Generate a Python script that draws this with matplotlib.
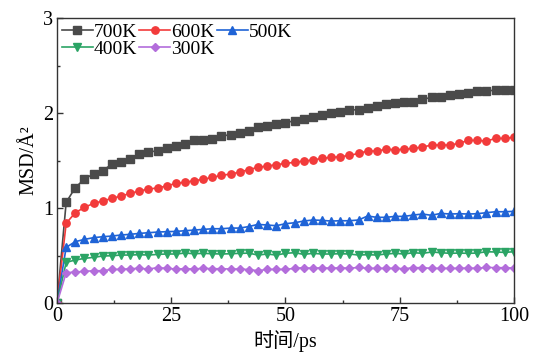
import numpy as np
import matplotlib
matplotlib.use("Agg")
import matplotlib.pyplot as plt
from matplotlib.ticker import MultipleLocator

plt.rcParams['font.family'] = ['Liberation Serif', 'Noto Sans CJK SC']
plt.rcParams['mathtext.fontset'] = 'stix'

# time axis (ps), sampled every 2 ps
time_ps = list(range(0, 101, 2))

msd_700 = [0.0, 1.06, 1.215, 1.305, 1.36, 1.395, 1.46, 1.483, 1.52, 1.568,
           1.589, 1.603, 1.635, 1.649, 1.677, 1.712, 1.712, 1.726, 1.758, 1.772,
           1.793, 1.815, 1.849, 1.860, 1.884, 1.898, 1.919, 1.937, 1.954, 1.982,
           2.003, 2.011, 2.032, 2.035, 2.049, 2.070, 2.091, 2.102, 2.119, 2.119,
           2.144, 2.165, 2.172, 2.189, 2.203, 2.214, 2.228, 2.235, 2.239, 2.242,
           2.242]
msd_600 = [0.0, 0.839, 0.951, 1.007, 1.049, 1.074, 1.102, 1.126, 1.154, 1.179,
           1.200, 1.211, 1.232, 1.260, 1.270, 1.288, 1.302, 1.323, 1.344, 1.358,
           1.378, 1.405, 1.428, 1.442, 1.456, 1.470, 1.481, 1.495, 1.505, 1.523,
           1.533, 1.540, 1.554, 1.575, 1.600, 1.600, 1.618, 1.614, 1.618, 1.628,
           1.642, 1.663, 1.663, 1.663, 1.681, 1.712, 1.712, 1.705, 1.733, 1.733,
           1.744]
msd_500 = [0.0, 0.586, 0.646, 0.670, 0.688, 0.698, 0.705, 0.716, 0.723, 0.733,
           0.740, 0.747, 0.751, 0.754, 0.761, 0.768, 0.775, 0.782, 0.782, 0.789,
           0.789, 0.805, 0.828, 0.821, 0.814, 0.835, 0.845, 0.863, 0.874, 0.870,
           0.863, 0.866, 0.866, 0.874, 0.916, 0.902, 0.902, 0.912, 0.912, 0.926,
           0.937, 0.923, 0.944, 0.937, 0.940, 0.937, 0.940, 0.951, 0.961, 0.961,
           0.965]
msd_400 = [0.0, 0.428, 0.453, 0.470, 0.481, 0.495, 0.498, 0.505, 0.505, 0.509,
           0.505, 0.512, 0.516, 0.516, 0.526, 0.519, 0.523, 0.519, 0.516, 0.519,
           0.523, 0.525, 0.505, 0.516, 0.505, 0.523, 0.530, 0.512, 0.523, 0.516,
           0.516, 0.519, 0.516, 0.505, 0.509, 0.505, 0.516, 0.523, 0.516, 0.530,
           0.523, 0.537, 0.530, 0.523, 0.526, 0.523, 0.526, 0.540, 0.537, 0.533,
           0.540]
msd_300 = [0.0, 0.319, 0.326, 0.333, 0.340, 0.340, 0.354, 0.354, 0.361, 0.365,
           0.358, 0.372, 0.365, 0.358, 0.361, 0.358, 0.365, 0.361, 0.361, 0.358,
           0.358, 0.352, 0.340, 0.354, 0.354, 0.354, 0.365, 0.372, 0.365, 0.372,
           0.365, 0.372, 0.365, 0.375, 0.365, 0.365, 0.365, 0.365, 0.361, 0.372,
           0.372, 0.365, 0.365, 0.365, 0.365, 0.368, 0.365, 0.375, 0.372, 0.372,
           0.368]

series = [
    ("700K", msd_700, "#4a4a4a", "s"),
    ("600K", msd_600, "#f23b3b", "o"),
    ("500K", msd_500, "#1f63d6", "^"),
    ("400K", msd_400, "#2ba465", "v"),
    ("300K", msd_300, "#b36ddb", "D"),
]

fig = plt.figure(figsize=(5.33, 3.54), dpi=100)
ax = fig.add_axes([0.107, 0.144, 0.857, 0.805])

lines = {}
for label, vals, color, marker in series:
    ms = 4.5 if marker == "D" else 5.3
    (ln,) = ax.plot(time_ps, vals, color=color, marker=marker, markersize=ms,
                    linewidth=1.2, label=label)
    lines[label] = ln

ax.set_xlim(0, 100)
ax.set_ylim(0, 3)
ax.xaxis.set_major_locator(MultipleLocator(25))
ax.xaxis.set_minor_locator(MultipleLocator(12.5))
ax.yaxis.set_major_locator(MultipleLocator(1))
ax.yaxis.set_minor_locator(MultipleLocator(0.5))
ax.tick_params(which='both', direction='in', top=False, right=False,
               labelsize=14.5, color='#333333')
ax.tick_params(which='major', length=4.5, width=1)
ax.tick_params(axis='x', which='major', pad=3)
ax.tick_params(axis='y', which='major', pad=3)
ax.tick_params(which='minor', length=2.5, width=1)
for s in ax.spines.values():
    s.set_color('#333333')
    s.set_linewidth(1.0)

ax.set_xlabel("时间/ps", fontsize=14.5, labelpad=3)
ax.set_ylabel("MSD/Å²", fontsize=14.5, labelpad=3)

# legend fills column by column: rows read 700K 600K 500K / 400K 300K
order = ["700K", "400K", "600K", "300K", "500K"]
ax.legend([lines[k] for k in order], order, loc='upper left', ncol=3,
          frameon=False, fontsize=14, handlelength=1.6, handletextpad=0.05,
          columnspacing=0.1, labelspacing=-0.02, borderaxespad=0.05,
          borderpad=0.2)

fig.savefig("out.png", dpi=100)
